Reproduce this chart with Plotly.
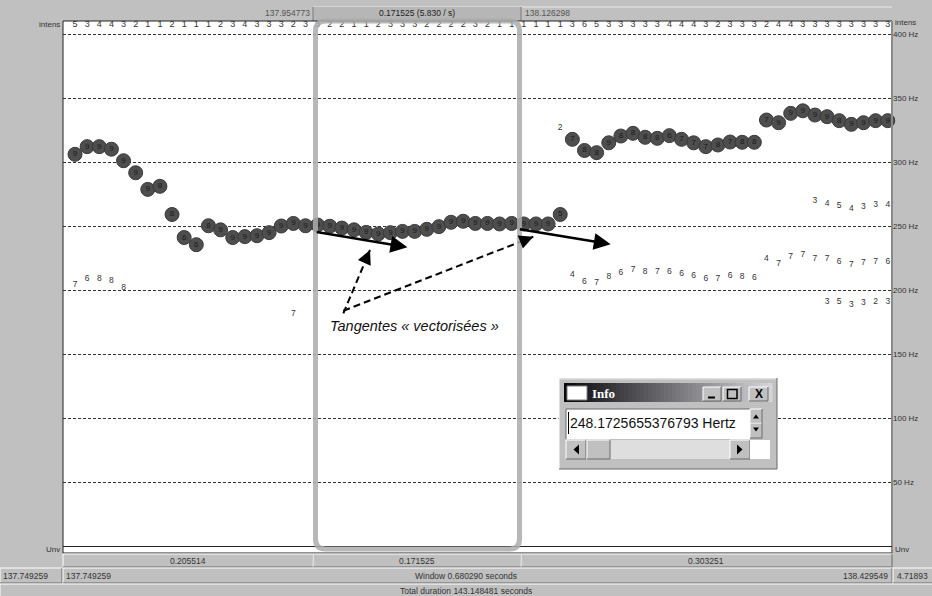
import plotly.graph_objects as go

W, H = 932, 596
def px(x): return x / W
def py(y): return 1 - y / H

# ---------------- data ----------------
frames = list(range(68))
intensity = [5, 3, 4, 4, 3, 2, 1, 1, 2, 1, 1, 1, 2, 3, 4, 3, 3, 3, 2, 3,
             3, 2, 2, 1, 1, 2, 3, 3, 3, 2, 2, 2, 2, 3, 2, 1, 1,
             1, 1, 1, 1, 3, 6, 5, 3, 3, 3, 3, 3, 4, 4, 4, 3, 2, 3, 3, 3, 2, 4, 4, 3, 3, 3, 3, 3, 3, 3, 3]
pitch_hz = [306, 312, 312, 310, 301, 291.6, 278.6, 281, 259, 241, 235.4, 250.2, 247, 241, 241.7, 242.4, 244.8, 250, 252, 250.2,
            250.8, 249.8, 248.4, 247, 245, 243.8, 244.8, 245.8, 245.8, 247.4, 249.5, 252.9, 253.7, 252, 252, 251.6, 252,
            251.6, 251.6, 251.6, 259,
            317.7, 309, 307.3, 315, 320.3, 322.4, 319.3, 318.5, 320.6, 317.7, 315, 312, 313.3, 315.6, 315.4, 315.4,
            332.8, 330.7, 338, 340, 336.7, 335.4, 332.3, 329.4, 330.7, 332.3, 332.3]
pitch_strength = [9, 9, 9, 9, 9, 9, 9, 8, 8, 6, 6, 8, 9, 9, 9, 9, 9, 9, 9, 9,
                  9, 9, 9, 9, 9, 9, 9, 9, 9, 9, 9, 9, 9, 9, 9, 9, 9,
                  9, 9, 9, 5,
                  7, 8, 8, 9, 8, 8, 8, 8, 6, 7, 7, 7, 8, 7, 8, 8,
                  7, 9, 9, 9, 9, 9, 8, 9, 9, 9, 9]

cand_frames = ([0, 1, 2, 3, 4, 18, 40] + list(range(41, 68)) + list(range(61, 68)) + list(range(62, 68)))
cand_hz = ([204, 208.9, 208.9, 207.5, 201.3, 181, 326.6]
           + [212.2, 206.5, 205.2, 210.4, 213.5, 215.6, 214.3, 213.8, 213.8, 212.5, 211, 208.6, 208.6, 211, 210.4, 209.1,
              224.7, 220.8, 226, 227.3, 224.7, 224.7, 221.6, 219.5, 221.3, 221.6, 221.6]
           + [269.8, 267.4, 265.6, 263.3, 265.1, 266.4, 266.4]
           + [190.9, 190.4, 188.3, 189.6, 190.9, 190.9])
cand_strength = ([7, 6, 8, 8, 8, 7, 2]
                 + [4, 6, 7, 8, 6, 7, 8, 7, 6, 6, 6, 6, 7, 6, 8, 6, 4, 7, 7, 7, 7, 7, 6, 7, 7, 7, 6]
                 + [3, 4, 5, 4, 3, 3, 4]
                 + [3, 5, 3, 3, 2, 3])

hz_ticks = [50, 100, 150, 200, 250, 300, 350, 400]
hz_labels = [f"{v} Hz" for v in hz_ticks]
intens_row_hz = 407

sel_start, sel_dur, sel_end = "137.954773", "0.171525 (5.830 / s)", "138.126298"
seg_labels = ["0.205514", "0.171525", "0.303251"]
win_start, win_text, win_end, win_extra = "137.749259", "Window 0.680290 seconds", "138.429549", "4.71893"
total_text = "Total duration 143.148481 seconds"
info_value = "248.1725655376793 Hertz"

FONT = "Liberation Sans, Arial, sans-serif"

fig = go.Figure()

fig.add_trace(go.Scatter(x=frames, y=[intens_row_hz] * len(frames), mode="text",
                         text=[str(v) for v in intensity],
                         textfont=dict(family=FONT, size=9, color="#333"),
                         hoverinfo="skip", cliponaxis=False, showlegend=False))
fig.add_trace(go.Scatter(x=cand_frames, y=cand_hz, mode="text",
                         text=[str(v) for v in cand_strength],
                         textfont=dict(family=FONT, size=8.5, color="#333"),
                         cliponaxis=False, showlegend=False))
fig.add_trace(go.Scatter(x=frames, y=pitch_hz, mode="markers+text",
                         text=[str(v) for v in pitch_strength], textposition="middle center",
                         textfont=dict(family=FONT, size=8, color="#1a1a1a"),
                         marker=dict(size=14, color="#4e4e4e", line=dict(color="#3a3a3a", width=1)),
                         cliponaxis=False, showlegend=False))

# dashed arrows (lines)
dash_arrows = [((22.12, 181.8), (24.32, 231.25), (-4, 9)),
               ((22.12, 183.8), (37.78, 241.6), (-9.3, 3.7))]
for (x0, y0), (x1, y1), _ in dash_arrows:
    fig.add_trace(go.Scatter(x=[x0, x1], y=[y0, y1], mode="lines",
                             line=dict(color="black", width=2, dash="7px,4px"),
                             hoverinfo="skip", showlegend=False))

shapes = []
ann = []

def rect(x0, y0, x1, y1, fill, line=None, lw=1, layer="above"):
    shapes.append(dict(type="rect", xref="paper", yref="paper", x0=px(x0), x1=px(x1),
                       y0=py(y1), y1=py(y0), fillcolor=fill,
                       line=dict(color=line if line else fill, width=lw if line else 0), layer=layer))

def seg(x0, y0, x1, y1, color, width=1, layer="above", dash="solid"):
    shapes.append(dict(type="line", xref="paper", yref="paper", x0=px(x0), x1=px(x1),
                       y0=py(y0), y1=py(y1), line=dict(color=color, width=width, dash=dash), layer=layer))

def bevel(x0, y0, x1, y1, fill="#c0c0c0", layer="above", raised=True):
    rect(x0, y0, x1, y1, fill, layer=layer)
    lt, dk = ("#ffffff", "#6a6a6a") if raised else ("#6a6a6a", "#ffffff")
    seg(x0, y0, x1, y0, lt, 1, layer)
    seg(x0, y0, x0, y1, lt, 1, layer)
    seg(x0, y1, x1, y1, dk, 1, layer)
    seg(x1, y0, x1, y1, dk, 1, layer)

def tri(points, color="black"):
    p = "M " + " L ".join(f"{px(a)},{py(b)}" for a, b in points) + " Z"
    shapes.append(dict(type="path", xref="paper", yref="paper", path=p, fillcolor=color,
                       line=dict(color=color, width=0), layer="above"))

def text(x, y, s, size=8.5, color="#333", xanchor="center", family=FONT, bold=False, italic=False):
    if bold:
        s = f"<b>{s}</b>"
    if italic:
        s = f"<i>{s}</i>"
    ann.append(dict(x=px(x), y=py(y), xref="paper", yref="paper", text=s, showarrow=False,
                    xanchor=xanchor, yanchor="middle", font=dict(family=family, size=size, color=color),
                    borderpad=0))

# ----- top bar -----
seg(313, 7, 892, 7, "#e8e8e8", 1, "below")
rect(313, 7, 521, 21, "#b6b6b6", layer="below")
seg(313, 7, 313, 21, "#7a7a7a", 1, "below")
seg(521, 7, 521, 21, "#7a7a7a", 1, "below")
text(311, 13, sel_start, 8.5, "#555", "right")
text(417, 13, sel_dur, 8.5, "#222", "center")
text(524, 13, sel_end, 8.5, "#555", "left")

# plot frame borders
seg(63, 21, 892, 21, "#222", 1)
seg(63, 21, 63, 553, "#222", 1)
seg(892, 21, 892, 553, "#8a8a8a", 2)
rect(63, 546, 892, 553, "white", layer="below")
seg(63, 546.5, 892, 546.5, "#222", 1)
seg(63, 553, 892, 553, "#222", 1)
text(61, 25, "intens", 8, "#333", "right")
text(894, 22, "intens", 8, "#333", "left")
text(61, 549, "Unv", 8, "#333", "right")
text(894, 549, "Unv", 8, "#333", "left")

# selection rounded border
r = 10
X0, X1, Y0, Y1 = 315.5, 519.5, 21, 549
pts = (f"M {px(X0 + r)},{py(Y0)} L {px(X1 - r)},{py(Y0)} Q {px(X1)},{py(Y0)} {px(X1)},{py(Y0 + r)} "
       f"L {px(X1)},{py(Y1 - r)} Q {px(X1)},{py(Y1)} {px(X1 - r)},{py(Y1)} "
       f"L {px(X0 + r)},{py(Y1)} Q {px(X0)},{py(Y1)} {px(X0)},{py(Y1 - r)} "
       f"L {px(X0)},{py(Y0 + r)} Q {px(X0)},{py(Y0)} {px(X0 + r)},{py(Y0)} Z")
shapes.append(dict(type="path", xref="paper", yref="paper", path=pts,
                   line=dict(color="#acacac", width=5), fillcolor="rgba(0,0,0,0)", layer="above", opacity=0.85))

# ----- bottom rows -----
bevel(63, 554, 313, 567)
bevel(313, 554, 521, 567)
bevel(521, 554, 892, 567)
text(188, 561, seg_labels[0])
text(417, 561, seg_labels[1])
text(706, 561, seg_labels[2])
bevel(0, 568, 62, 583)
bevel(63, 568, 892, 583)
bevel(893, 568, 940, 583)
text(2, 575.5, win_start, 8.5, "#333", "left")
text(65, 575.5, win_start, 8.5, "#333", "left")
text(466, 575.5, win_text, 8.5, "#333", "center")
text(889, 575.5, win_end, 8.5, "#333", "right")
text(896, 575.5, win_extra, 8.5, "#333", "left")
bevel(0, 584, 940, 600)
text(466, 591, total_text, 8.5, "#333", "center")

# ----- Info window -----
bevel(559, 378, 777, 469)
seg(560, 379, 776, 379, "#e0e0e0", 1)
n = 52
x_a, x_b = 564, 772
for i in range(n):
    g = int(10 + (212 - 10) * i / (n - 1))
    rect(x_a + (x_b - x_a) * i / n, 383, x_a + (x_b - x_a) * (i + 1) / n + 0.6, 402, f"rgb({g},{g},{g + 4 if g < 250 else g})")
rect(567, 386, 587, 400, "white", "#808080", 1)
text(591, 393, "Info", 13, "white", "left", family="Liberation Serif, Times New Roman, serif", bold=True)
for bx0, bx1 in [(703, 721), (723, 741), (749, 768)]:
    bevel(bx0, 387, bx1, 401)
seg(708, 397.5, 715, 397.5, "black", 2)
rect(727.5, 389.5, 737, 398.5, "rgba(0,0,0,0)", "black", 1.5)
text(758.5, 394, "X", 12, "black", "center", bold=True)
rect(566, 409, 750, 439, "white", layer="above")
seg(566, 409, 750, 409, "#6a6a6a", 1)
seg(566, 409, 566, 439, "#6a6a6a", 1)
seg(568.5, 412, 568.5, 434, "black", 1)
text(569, 423, info_value, 14, "#111", "left")
bevel(750, 409, 762, 423)
bevel(750, 423, 762, 438)
tri([(753, 418.5), (759, 418.5), (756, 414.5)])
tri([(753, 427.5), (759, 427.5), (756, 431.5)])
rect(566, 440, 770, 459, "#dedede")
bevel(566, 440, 586, 459)
tri([(579, 444.5), (579, 454.5), (573.5, 449.5)])
bevel(587, 440, 610, 459)
bevel(730, 440, 750, 459)
tri([(737, 444.5), (737, 454.5), (742.5, 449.5)])
rect(750, 440, 770, 459, "white")

# ----- arrows -----
solid_arrows = [((19.8, 245.5), (27.4, 233.4)), ((36.55, 247.7), (44.16, 235.7))]
for (tx, ty), (hx, hy) in solid_arrows:
    ann.append(dict(x=hx, y=hy, ax=tx, ay=ty, xref="x", yref="y", axref="x", ayref="y", text="",
                    showarrow=True, arrowhead=2, arrowsize=1.3, arrowwidth=2.6, arrowcolor="black", standoff=0))
for _, (hx, hy), (dx, dy) in dash_arrows:
    ann.append(dict(x=hx, y=hy, ax=dx, ay=dy, xref="x", yref="y", text="",
                    showarrow=True, arrowhead=2, arrowsize=1.4, arrowwidth=2, arrowcolor="black", standoff=0))
ann.append(dict(x=27.95, y=171.9, xref="x", yref="y", text="<i>Tangentes « vectorisées »</i>",
                showarrow=False, font=dict(family=FONT, size=14.5, color="#111")))

fig.update_layout(
    width=W, height=H, margin=dict(l=0, r=0, t=0, b=0),
    paper_bgcolor="#c0c0c0", plot_bgcolor="white",
    shapes=shapes, annotations=ann, showlegend=False,
    xaxis=dict(domain=[px(63), px(892)], range=[-0.99, 67.35], showgrid=False, zeroline=False,
               showticklabels=False, ticks="", fixedrange=True),
    yaxis=dict(domain=[py(546), py(21)], range=[0, 400 * (546 - 21) / (546 - 34)], side="right",
               tickvals=hz_ticks, ticktext=hz_labels, ticks="", showgrid=True, gridcolor="#333",
               gridwidth=1, griddash="3px,2px", zeroline=False, showline=False,
               tickfont=dict(family=FONT, size=8, color="#333"), fixedrange=True),
)

fig.write_html("out.html", config={"displayModeBar": False},
               post_script="document.body.style.margin='0px';document.body.style.overflow='hidden';")
